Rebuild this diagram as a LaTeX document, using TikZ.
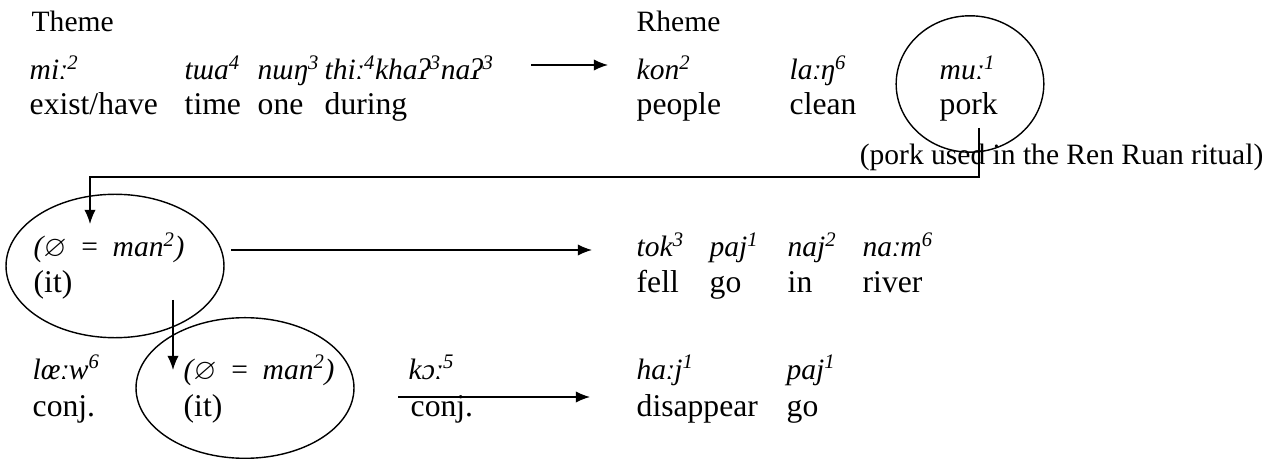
\documentclass[tikz,border=0pt]{standalone}
\usepackage{amssymb}
\usepackage{fontspec}
\setmainfont{Liberation Serif}
\usetikzlibrary{arrows.meta,shapes.geometric}

\newcommand\tone[1]{\textsuperscript{#1}}
\newcommand\phonfont{\fontsize{21}{25}\selectfont\itshape}
\newcommand\glossfont{\fontsize{22.5}{27}\selectfont}
\newcommand\headfont{\fontsize{21}{25}\selectfont}
\newcommand\nullman{(\ensuremath{\varnothing}\enspace\textup{=}\enspace man\tone{2})}

\begin{document}
\begin{tikzpicture}
  [x=0.025cm,y=-0.025cm,line width=1pt,
   ph/.style={anchor=base west,inner sep=0pt,font=\phonfont},
   gl/.style={anchor=base west,inner sep=0pt,font=\glossfont},
   hd/.style={anchor=base west,inner sep=0pt,font=\headfont},
   ring/.style={draw,ellipse,inner sep=0pt},
   arr/.style={-{Latex[length=10pt,width=8pt]}}]
  \useasboundingbox (0,0) rectangle (1272,459);

  \node[hd] (theme) at (31,32) {Theme};
  \node[hd] (rheme) at (636,32) {Rheme};

  % first clause
  \node[ph] (mi)   at (29,80)  {miː\tone{2}};
  \node[ph] (tua)  at (184,80) {tɯa\tone{4}};
  \node[ph] (nun)  at (257,80) {nɯŋ\tone{3}};
  \node[ph] (thi)  at (324,80) {thiː\tone{4}khaʔ\tone{3}naʔ\tone{3}};
  \node[ph] (kon)  at (636,80) {kon\tone{2}};
  \node[ph] (lan)  at (789,80) {laːŋ\tone{6}};
  \node[ph] (mu)   at (939,80) {muː\tone{1}};
  \node[gl] (have) at (29,115)  {exist/have};
  \node[gl] (time) at (184,115) {time};
  \node[gl] (one)  at (257,115) {one};
  \node[gl] (dur)  at (324,115) {during};
  \node[gl] (ppl)  at (636,115) {people};
  \node[gl] (cln)  at (789,115) {clean};
  \node[gl] (pork) at (939,115) {pork};
  \node[ring,minimum width=105pt,minimum height=97pt] (rmu) at (970,84) {};
  \node[hd,anchor=base east] (note) at (1264,165) {(pork used in the Ren Ruan ritual)};

  % second clause
  \node[ph] (z1)   at (33,257)  {\nullman};
  \node[ph] (tok)  at (636,257) {tok\tone{3}};
  \node[ph] (paj)  at (709,257) {paj\tone{1}};
  \node[ph] (naj)  at (787,257) {naj\tone{2}};
  \node[ph] (nam)  at (862,257) {naːm\tone{6}};
  \node[gl] (it1)  at (33,293)  {(it)};
  \node[gl] (fell) at (636,293) {fell};
  \node[gl] (go)   at (709,293) {go};
  \node[gl] (in)   at (787,293) {in};
  \node[gl] (riv)  at (862,293) {river};
  \node[ring,minimum width=155pt,minimum height=102pt] (rz1) at (115,266) {};

  % third clause
  \node[ph] (lew)  at (32,379)  {lœːw\tone{6}};
  \node[ph] (z2)   at (183,379) {\nullman};
  \node[ph] (ko)   at (408,379) {kɔː\tone{5}};
  \node[ph] (haj)  at (636,379) {haːj\tone{1}};
  \node[ph] (paj2) at (786,379) {paj\tone{1}};
  \node[gl] (cj1)  at (32,416)  {conj.};
  \node[gl] (it2)  at (183,416) {(it)};
  \node[gl] (cj2)  at (410,416) {conj.};
  \node[gl] (dis)  at (636,416) {disappear};
  \node[gl] (go2)  at (786,416) {go};
  \node[ring,minimum width=155pt,minimum height=100pt] (rz2) at (245,388) {};

  % arrow ends
  \coordinate (t1) at (531,65);  \coordinate (r1) at (608,65);
  \coordinate (t2) at (231,250); \coordinate (r2) at (592,250);
  \coordinate (t3) at (398,397); \coordinate (r3) at (590,397);
  \coordinate (up) at (173,300); \coordinate (dn) at (173,370);
  \coordinate (pk) at (979,128); \coordinate (zt) at (90,224);

  \foreach \from/\to in {t1/r1, t2/r2, t3/r3, up/dn}
    \draw[arr] (\from) -- (\to);
  \draw[arr] (pk) -- ++(0,49) -| (zt);

\end{tikzpicture}
\end{document}
